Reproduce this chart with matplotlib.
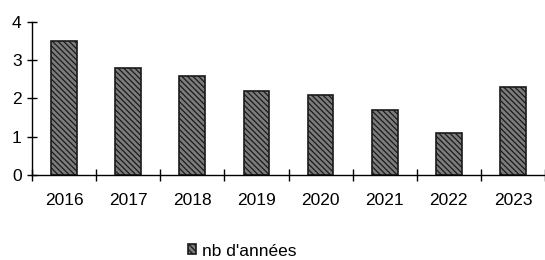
import numpy as np
import matplotlib.pyplot as plt

# data
years = ['2016', '2017', '2018', '2019', '2020', '2021', '2022', '2023']
nb_annees = [3.5, 2.8, 2.6, 2.2, 2.1, 1.7, 1.1, 2.3]
yticks = [0, 1, 2, 3, 4]

plt.rcParams['font.family'] = ['Liberation Sans', 'DejaVu Sans']
plt.rcParams['hatch.linewidth'] = 0.9

fig = plt.figure(figsize=(5.45, 2.6), dpi=100)
ax = fig.add_axes([32 / 545, 85 / 260, 513 / 545, 153 / 260])

x = np.arange(len(years))
ax.bar(x, nb_annees, width=0.4, facecolor='#7c7c7c', edgecolor='#1a1a1a',
       hatch='\\\\\\\\\\\\', linewidth=1.2, label="nb d'années")

ax.set_xlim(-0.5, len(years) - 0.5)
ax.set_ylim(0, 4)
ax.set_yticks(yticks)

# category labels at bar centres, tick marks between categories
ax.set_xticks(x)
ax.set_xticklabels(years, fontsize=12.5)
ax.tick_params(axis='x', which='major', length=0, pad=13)
ax.set_xticks(np.arange(-0.5, len(years), 1.0), minor=True)
ax.tick_params(axis='x', which='minor', direction='inout', length=8, width=1)
ax.tick_params(axis='y', direction='inout', length=7, width=1, labelsize=12.5, pad=4)

for side in ['top', 'right']:
    ax.spines[side].set_visible(False)
ax.spines['left'].set_linewidth(1)
ax.spines['bottom'].set_linewidth(1)

fig.legend(loc='center', bbox_to_anchor=(242 / 545, 1 - 251 / 260), frameon=False,
           fontsize=12.5, handlelength=0.5, handleheight=0.5, handletextpad=0.3)

plt.savefig('out.png', dpi=100)
